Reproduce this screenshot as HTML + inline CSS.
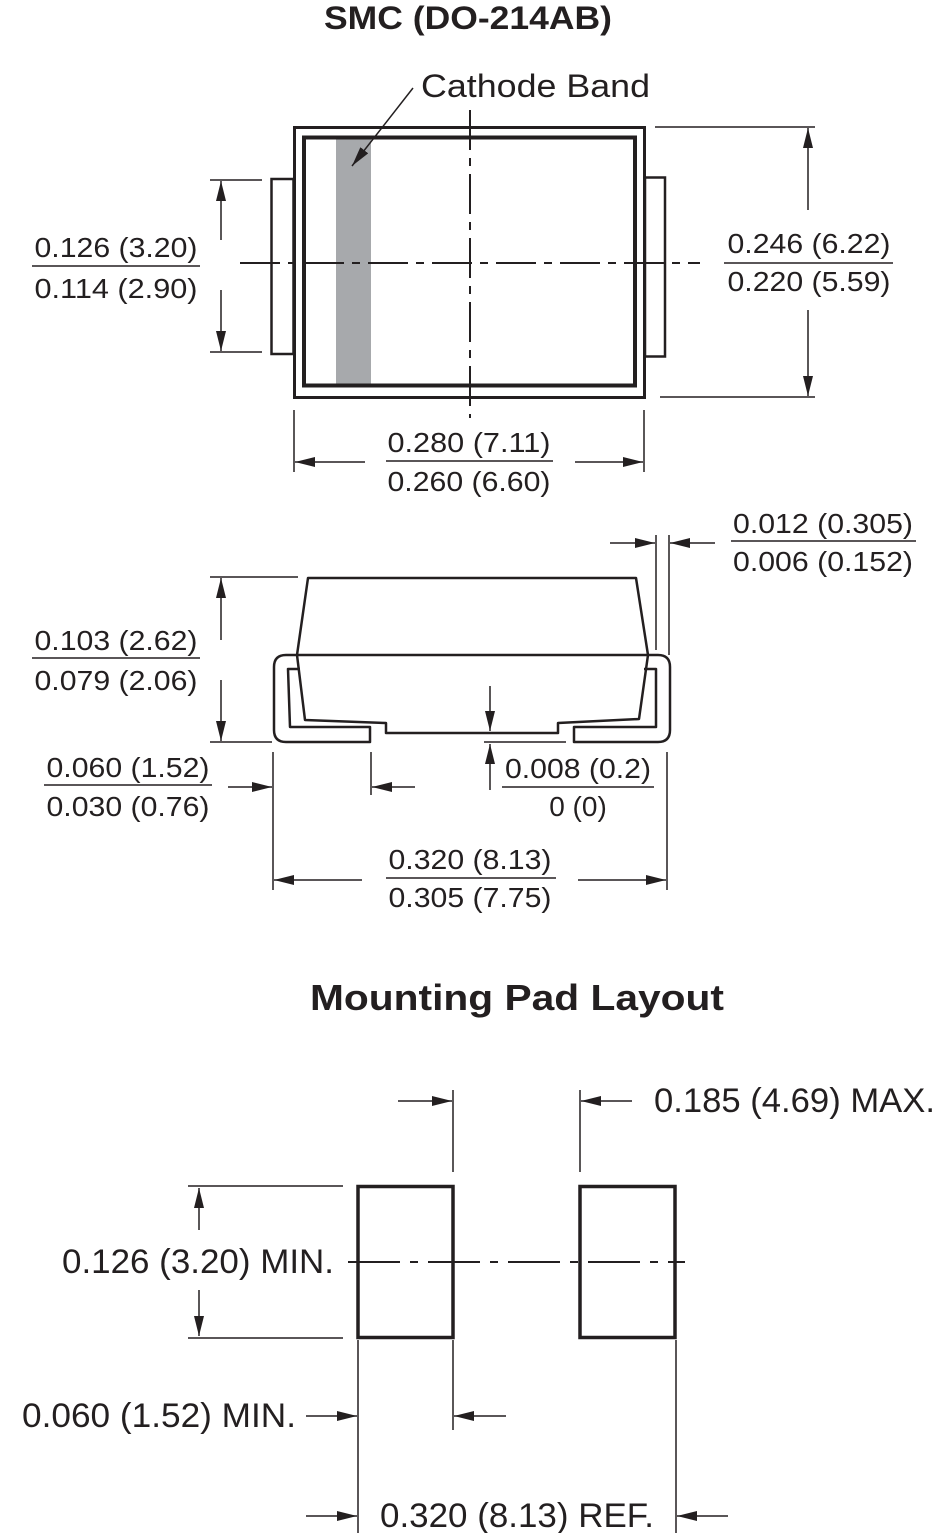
<!DOCTYPE html>
<html><head><meta charset="utf-8"><style>
html,body{margin:0;padding:0;background:#fff;}
svg{display:block;}
text{font-family:"Liberation Sans",Arial,sans-serif;fill:#231f20;}
.d{font-size:28px;}
.m{font-size:34px;}
.b{font-weight:bold;}
</style></head><body>
<svg width="940" height="1533" viewBox="0 0 940 1533" xmlns="http://www.w3.org/2000/svg">
<defs>
<marker id="a" viewBox="0 0 20 10" refX="20" refY="5" markerWidth="20" markerHeight="10" markerUnits="userSpaceOnUse" orient="auto">
<path d="M0,0 L20,5 L0,10 z" fill="#231f20"/></marker>
</defs>
<text x="468" y="29" class="b" font-size="32" text-anchor="middle" textLength="288" lengthAdjust="spacingAndGlyphs">SMC (DO-214AB)</text>
<text x="421" y="97" font-size="32" textLength="229" lengthAdjust="spacingAndGlyphs">Cathode Band</text>

<rect x="336" y="138" width="35" height="248" fill="#a7a9ac"/>
<g stroke="#231f20" fill="none">
<rect x="294.5" y="127.5" width="350" height="270" stroke-width="3"/>
<rect x="304" y="137.5" width="331" height="248" stroke-width="4"/>
<rect x="271.5" y="179" width="22" height="175" stroke-width="2.5"/>
<rect x="645" y="177.5" width="20" height="179" stroke-width="2.5"/>
<line x1="240" y1="263" x2="700" y2="263" stroke-width="2" stroke-dasharray="40,8,8,8"/>
<line x1="470" y1="110" x2="470" y2="418" stroke-width="2" stroke-dasharray="40,8,8,8"/>
<line x1="413" y1="88" x2="352" y2="166" stroke-width="1.5" marker-end="url(#a)"/>
<line x1="210" y1="180" x2="262" y2="180" stroke-width="1.5"/>
<line x1="210" y1="352" x2="262" y2="352" stroke-width="1.5"/>
<line x1="221" y1="240" x2="221" y2="181" stroke-width="1.5" marker-end="url(#a)"/>
<line x1="221" y1="290" x2="221" y2="351" stroke-width="1.5" marker-end="url(#a)"/>
<line x1="32" y1="266" x2="200" y2="266" stroke-width="1.5"/>
<line x1="655" y1="127" x2="815" y2="127" stroke-width="1.5"/>
<line x1="660" y1="397" x2="815" y2="397" stroke-width="1.5"/>
<line x1="808" y1="210" x2="808" y2="128" stroke-width="1.5" marker-end="url(#a)"/>
<line x1="808" y1="310" x2="808" y2="396" stroke-width="1.5" marker-end="url(#a)"/>
<line x1="724" y1="263" x2="893" y2="263" stroke-width="1.5"/>
<line x1="294" y1="410" x2="294" y2="472" stroke-width="1.5"/>
<line x1="644" y1="410" x2="644" y2="472" stroke-width="1.5"/>
<line x1="365" y1="462" x2="295" y2="462" stroke-width="1.5" marker-end="url(#a)"/>
<line x1="575" y1="462" x2="643" y2="462" stroke-width="1.5" marker-end="url(#a)"/>
<line x1="386" y1="461" x2="553" y2="461" stroke-width="1.5"/>
</g>
<text x="116" y="257" class="d" text-anchor="middle" textLength="163" lengthAdjust="spacingAndGlyphs">0.126 (3.20)</text>
<text x="116" y="298" class="d" text-anchor="middle" textLength="163" lengthAdjust="spacingAndGlyphs">0.114 (2.90)</text>
<text x="809" y="253" class="d" text-anchor="middle" textLength="163" lengthAdjust="spacingAndGlyphs">0.246 (6.22)</text>
<text x="809" y="291" class="d" text-anchor="middle" textLength="163" lengthAdjust="spacingAndGlyphs">0.220 (5.59)</text>
<text x="469" y="452" class="d" text-anchor="middle" textLength="163" lengthAdjust="spacingAndGlyphs">0.280 (7.11)</text>
<text x="469" y="491" class="d" text-anchor="middle" textLength="163" lengthAdjust="spacingAndGlyphs">0.260 (6.60)</text>

<g stroke="#231f20" fill="none" stroke-width="2.5" stroke-linejoin="round">
<path d="M297,655 L308,578 L636,578 L648,655 Z"/>
<path d="M297,655 L305,720 L386,723 L386,733 L558,733 L558,723 L639,719 L648,655"/>
<path d="M297,655 L286,655 Q274,655 274,667 L274,730 Q274,742 286,742 L370,742 L370,727 L290,727 L288,669 L300,669"/>
<path d="M648,655 L658,655 Q670,655 670,667 L670,730 Q670,742 658,742 L574,742 L574,727 L656,727 L656,669 L644,669"/>
</g>
<g stroke="#231f20" fill="none" stroke-width="1.5">
<line x1="656" y1="535" x2="656" y2="650"/>
<line x1="669" y1="535" x2="669" y2="655"/>
<line x1="610" y1="543" x2="655" y2="543" marker-end="url(#a)"/>
<line x1="715" y1="543" x2="670" y2="543" marker-end="url(#a)"/>
<line x1="731" y1="541" x2="916" y2="541"/>
<line x1="210" y1="577" x2="298" y2="577"/>
<line x1="210" y1="742" x2="272" y2="742"/>
<line x1="221" y1="640" x2="221" y2="578" marker-end="url(#a)"/>
<line x1="221" y1="680" x2="221" y2="741" marker-end="url(#a)"/>
<line x1="32" y1="658" x2="200" y2="658"/>
<line x1="44" y1="785" x2="212" y2="785"/>
<line x1="228" y1="787" x2="272" y2="787" marker-end="url(#a)"/>
<line x1="273" y1="752" x2="273" y2="890"/>
<line x1="415" y1="787" x2="372" y2="787" marker-end="url(#a)"/>
<line x1="371" y1="752" x2="371" y2="795"/>
<line x1="490" y1="686" x2="490" y2="731" marker-end="url(#a)"/>
<line x1="484" y1="742" x2="566" y2="742"/>
<line x1="490" y1="790" x2="490" y2="744" marker-end="url(#a)"/>
<line x1="502" y1="787" x2="654" y2="787"/>
<line x1="667" y1="752" x2="667" y2="890"/>
<line x1="362" y1="880" x2="274" y2="880" marker-end="url(#a)"/>
<line x1="578" y1="880" x2="666" y2="880" marker-end="url(#a)"/>
<line x1="386" y1="878" x2="556" y2="878"/>
</g>
<text x="823" y="533" class="d" text-anchor="middle" textLength="180" lengthAdjust="spacingAndGlyphs">0.012 (0.305)</text>
<text x="823" y="571" class="d" text-anchor="middle" textLength="180" lengthAdjust="spacingAndGlyphs">0.006 (0.152)</text>
<text x="116" y="650" class="d" text-anchor="middle" textLength="163" lengthAdjust="spacingAndGlyphs">0.103 (2.62)</text>
<text x="116" y="690" class="d" text-anchor="middle" textLength="163" lengthAdjust="spacingAndGlyphs">0.079 (2.06)</text>
<text x="128" y="777" class="d" text-anchor="middle" textLength="163" lengthAdjust="spacingAndGlyphs">0.060 (1.52)</text>
<text x="128" y="816" class="d" text-anchor="middle" textLength="163" lengthAdjust="spacingAndGlyphs">0.030 (0.76)</text>
<text x="505" y="778" class="d" textLength="146" lengthAdjust="spacingAndGlyphs">0.008 (0.2)</text>
<text x="578" y="816" class="d" text-anchor="middle">0 (0)</text>
<text x="470" y="869" class="d" text-anchor="middle" textLength="163" lengthAdjust="spacingAndGlyphs">0.320 (8.13)</text>
<text x="470" y="907" class="d" text-anchor="middle" textLength="163" lengthAdjust="spacingAndGlyphs">0.305 (7.75)</text>

<text x="517" y="1010" class="b" font-size="36" text-anchor="middle" textLength="414" lengthAdjust="spacingAndGlyphs">Mounting Pad Layout</text>
<g stroke="#231f20" fill="none">
<rect x="358" y="1186.5" width="95" height="151" stroke-width="3.5"/>
<rect x="580" y="1186.5" width="95" height="151" stroke-width="3.5"/>
<line x1="348" y1="1262" x2="685" y2="1262" stroke-width="2" stroke-dasharray="52,10,8,10"/>
<g stroke-width="1.5">
<line x1="453" y1="1090" x2="453" y2="1172"/>
<line x1="580" y1="1090" x2="580" y2="1172"/>
<line x1="398" y1="1101" x2="452" y2="1101" marker-end="url(#a)"/>
<line x1="632" y1="1101" x2="581" y2="1101" marker-end="url(#a)"/>
<line x1="188" y1="1186" x2="343" y2="1186"/>
<line x1="188" y1="1338" x2="343" y2="1338"/>
<line x1="199" y1="1230" x2="199" y2="1188" marker-end="url(#a)"/>
<line x1="199" y1="1290" x2="199" y2="1336" marker-end="url(#a)"/>
<line x1="306" y1="1416" x2="357" y2="1416" marker-end="url(#a)"/>
<line x1="358" y1="1340" x2="358" y2="1533"/>
<line x1="506" y1="1416" x2="454" y2="1416" marker-end="url(#a)"/>
<line x1="453" y1="1340" x2="453" y2="1430"/>
<line x1="306" y1="1516" x2="357" y2="1516" marker-end="url(#a)"/>
<line x1="728" y1="1516" x2="677" y2="1516" marker-end="url(#a)"/>
<line x1="676" y1="1340" x2="676" y2="1533"/>
</g>
</g>
<text x="654" y="1112" class="m" textLength="281" lengthAdjust="spacingAndGlyphs">0.185 (4.69) MAX.</text>
<text x="62" y="1273" class="m" textLength="272" lengthAdjust="spacingAndGlyphs">0.126 (3.20) MIN.</text>
<text x="22" y="1427" class="m" textLength="274" lengthAdjust="spacingAndGlyphs">0.060 (1.52) MIN.</text>
<text x="380" y="1527" class="m" textLength="274" lengthAdjust="spacingAndGlyphs">0.320 (8.13) REF.</text>
</svg>
</body></html>
